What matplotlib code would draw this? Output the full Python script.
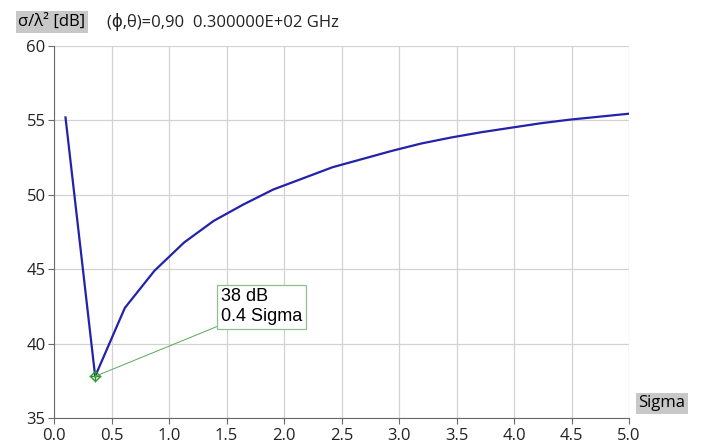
import matplotlib
matplotlib.use("Agg")
import matplotlib.pyplot as plt

# sampled sigma values and RCS (dB)
sigma = [0.1, 0.358, 0.616, 0.874, 1.132, 1.389, 1.647, 1.905, 2.163, 2.421,
         2.679, 2.937, 3.195, 3.453, 3.711, 3.968, 4.226, 4.484, 4.742, 5.0]
rcs_db = [55.2, 37.8, 42.4, 44.9, 46.8, 48.25, 49.35, 50.35, 51.1, 51.85,
          52.4, 52.95, 53.45, 53.85, 54.2, 54.5, 54.8, 55.05, 55.25, 55.45]

x_ticks = [0.0, 0.5, 1.0, 1.5, 2.0, 2.5, 3.0, 3.5, 4.0, 4.5, 5.0]
y_ticks = [35, 40, 45, 50, 55, 60]

ui_font = ['Open Sans', 'DejaVu Sans']

fig = plt.figure(figsize=(7.05, 4.46), dpi=100)
ax = fig.add_axes([54 / 705, 1 - 418 / 446, (629 - 54) / 705, (418 - 46) / 446])

ax.plot(sigma, rcs_db, color='#2222aa', lw=1.6, zorder=3)

# minimum marker and annotation
i_min = rcs_db.index(min(rcs_db))
xm, ym = sigma[i_min], rcs_db[i_min]
ax.plot(xm, ym, marker='D', ms=5, mfc='none', mec='#2e9a2e', mew=1, zorder=4)
ax.plot(xm, ym, marker='+', ms=8, color='#2e9a2e', mew=1, zorder=4)
ax.annotate(f"{ym:.0f} dB\n{xm:.1f} Sigma", xy=(xm, ym), xytext=(1.45, 41.25),
            fontsize=13, family='Liberation Sans', ha='left', va='bottom',
            linespacing=1.2,
            bbox=dict(boxstyle='square,pad=0.2', fc='white', ec='#8cc08c', lw=0.9),
            arrowprops=dict(arrowstyle='-', color='#5aa85a', lw=0.7,
                            relpos=(0, 0), shrinkA=0, shrinkB=0),
            zorder=5)

ax.set_xlim(0, 5)
ax.set_ylim(35, 60)
ax.set_xticks(x_ticks)
ax.set_yticks(y_ticks)
ax.set_xticklabels([f"{v:.1f}" for v in x_ticks], family=ui_font, fontsize=12)
ax.set_yticklabels([str(v) for v in y_ticks], family=ui_font, fontsize=12)
ax.grid(True, color='#d2d2d2', lw=0.9)
ax.set_axisbelow(True)
for side in ['top', 'right']:
    ax.spines[side].set_visible(False)
for side in ['left', 'bottom']:
    ax.spines[side].set_color('#6a6a6a')
ax.tick_params(length=4, width=0.8, color='#6a6a6a', labelcolor='#222222')
ax.tick_params(axis='x', pad=3)
ax.tick_params(axis='y', pad=2)

fig.text(18 / 705, 1 - 22 / 446, "σ/λ² [dB]", family=ui_font, fontsize=12,
         va='center', ha='left',
         bbox=dict(boxstyle='square,pad=0.15', fc='#c8c8c8', ec='none'))
fig.text(107 / 705, 1 - 22 / 446, "(ϕ,θ)=0,90  0.300000E+02 GHz", family=ui_font,
         fontsize=12, va='center', ha='left', color='#222222')
fig.text(638 / 705, 1 - 403 / 446, "Sigma", family=ui_font, fontsize=12,
         va='center', ha='left',
         bbox=dict(boxstyle='square,pad=0.15', fc='#c8c8c8', ec='none'))

plt.savefig("out.png", dpi=100)
plt.close()
